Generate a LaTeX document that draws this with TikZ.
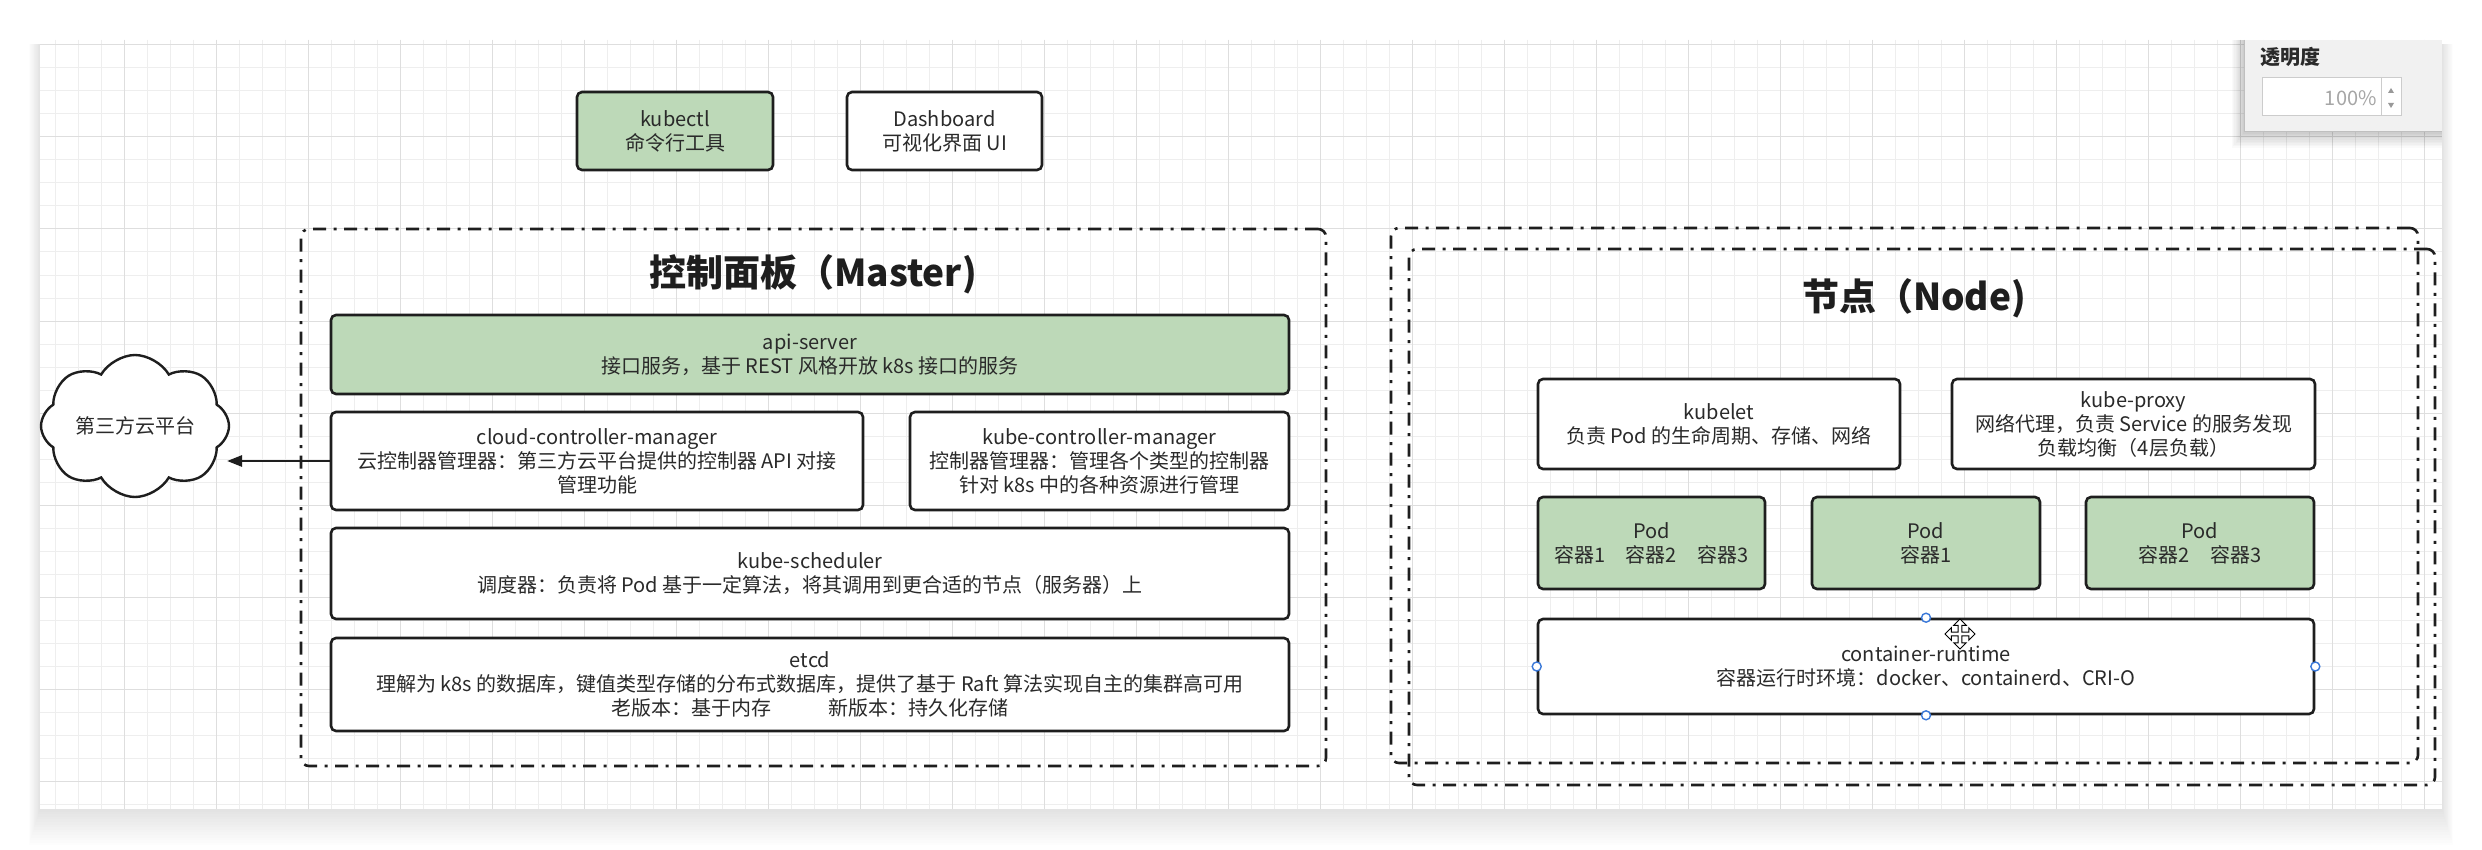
\documentclass[tikz,border=0pt]{standalone}
\usepackage{fontspec}
\setmainfont{Noto Sans CJK SC}
\usetikzlibrary{shapes.symbols,arrows.meta}
\definecolor{boxline}{HTML}{1E1E1E}
\definecolor{txt}{HTML}{2A2A2A}
\definecolor{greenfill}{HTML}{BDD9B8}
\definecolor{gridminor}{HTML}{EEEEEE}
\definecolor{gridmajor}{HTML}{DEDEDE}
\definecolor{handle}{HTML}{3A78D8}
\definecolor{panelfill}{HTML}{F1F1F1}
\newcommand\boxnode[7]{\node[#6, minimum width={(#4-#2)*0.5pt}, minimum height={(#5-#3)*0.5pt}] (#1) at ({(#2+#4)/2},{(#3+#5)/2}) {#7};}
\begin{document}
\begin{tikzpicture}[x=0.5pt,y=-0.5pt,
  compbox/.style={draw=boxline, line width=1.3pt, rounded corners=2.5pt, fill=white, align=center,
    font=\fontsize{10}{12}\selectfont, text=txt, inner sep=0pt},
  greenbox/.style={compbox, fill=greenfill},
  groupbox/.style={draw=boxline, line width=1.3pt, rounded corners=4pt,
    dash pattern=on 6.5pt off 3.75pt on 1.5pt off 3.75pt, inner sep=0pt},
  titletext/.style={font=\fontsize{18.5}{22}\selectfont\bfseries, text=boxline},
  cloudnode/.style={cloud, cloud puffs=8, cloud puff arc=120, aspect=1.5, draw=boxline, line width=1.2pt,
    fill=white, font=\fontsize{10}{12}\selectfont, text=txt, inner sep=0pt},
  arrowline/.style={draw=boxline, line width=1.3pt, -{Triangle[length=7.5pt,width=5.5pt]}},
  handledot/.style={circle, draw=handle, line width=0.7pt, fill=white, minimum size=4.5pt, inner sep=0pt},
  gridline/.style={line width=0.5pt},
]
\useasboundingbox (0,0) rectangle (2482,850);
\fill[white] (0,0) rectangle (2482,850);
% canvas shadow
\foreach \s in {1,...,14}
  \fill[black,opacity=0.009] ({40-\s*0.8},{44}) rectangle ({2442+\s*0.8},{809+\s*2.6});
\fill[white] (40,40) rectangle (2442,809);
% grid
\foreach \gx in {55,78,...,2442} \draw[gridline,gridminor] (\gx,40) -- (\gx,809);
\foreach \gy in {45,68,...,809} \draw[gridline,gridminor] (40,\gy) -- (2442,\gy);
\foreach \gx in {124,216,...,2442} \draw[gridline,gridmajor] (\gx,40) -- (\gx,809);
\foreach \gy in {45,137,...,809} \draw[gridline,gridmajor] (40,\gy) -- (2442,\gy);

% top tools
\boxnode{kubectl}{577}{92}{773}{170}{greenbox}{kubectl\\命令行工具}
\boxnode{dashboard}{847}{92}{1042}{170}{compbox}{Dashboard\\可视化界面 UI}

% master
\boxnode{master}{301}{229}{1326}{766}{groupbox}{}
\node[titletext] (mastertitle) at (813,274) {控制面板（Master)};
\boxnode{api}{331}{315}{1289}{394}{greenbox}{api-server\\接口服务，基于 REST 风格开放 k8s 接口的服务}
\boxnode{ccm}{331}{412}{863}{510}{compbox}{cloud-controller-manager\\云控制器管理器：第三方云平台提供的控制器 API 对接\\管理功能}
\boxnode{kcm}{910}{412}{1289}{510}{compbox}{kube-controller-manager\\控制器管理器：管理各个类型的控制器\\针对 k8s 中的各种资源进行管理}
\boxnode{sched}{331}{528}{1289}{619}{compbox}{kube-scheduler\\调度器：负责将 Pod 基于一定算法，将其调用到更合适的节点（服务器）上}
\boxnode{etcd}{331}{638}{1289}{731}{compbox}{etcd\\理解为 k8s 的数据库，键值类型存储的分布式数据库，提供了基于 Raft 算法实现自主的集群高可用\\老版本：基于内存\hspace*{2.9em}新版本：持久化存储}

% cloud
\node[cloudnode, minimum width=94pt, minimum height=63pt] (cloud) at (135,426) {第三方云平台};
\coordinate (cloudtip) at (227,461);
\draw[arrowline] (ccm.west) -- (cloudtip);

% node area
\boxnode{nodeouter}{1391}{228}{2418}{763}{groupbox}{}
\boxnode{nodeinner}{1409}{249}{2435}{785}{groupbox}{}
\node[titletext] (nodetitle) at (1914,298) {节点（Node)};
\boxnode{kubelet}{1538}{379}{1900}{469}{compbox}{kubelet\\负责 Pod 的生命周期、存储、网络}
\boxnode{proxy}{1952}{379}{2315}{469}{compbox}{kube-proxy\\网络代理，负责 Service 的服务发现\\负载均衡（4层负载）}
\boxnode{podA}{1538}{497}{1765}{589}{greenbox}{Pod\\容器1\hspace*{1em}容器2\hspace*{1em}容器3}
\boxnode{podB}{1812}{497}{2040}{589}{greenbox}{Pod\\容器1}
\boxnode{podC}{2086}{497}{2314}{589}{greenbox}{Pod\\容器2\hspace*{1em}容器3}
\boxnode{runtime}{1538}{619}{2314}{714}{compbox}{container-runtime\\容器运行时环境：docker、containerd、CRI-O}

% selection handles
\node[handledot] (hN) at (runtime.north) {};
\node[handledot] (hS) at (runtime.south) {};
\node[handledot] (hW) at (runtime.west) {};
\node[handledot] (hE) at (runtime.east) {};

% move cursor
\begin{scope}[shift={(1960,634)}, scale=1.25]
\filldraw[fill=white, draw=black, line width=0.5pt, line join=miter]
 (0,-12) -- (5,-7) -- (1.5,-7) -- (1.5,-1.5) -- (7,-1.5) -- (7,-5) -- (12,0) -- (7,5) -- (7,1.5)
 -- (1.5,1.5) -- (1.5,7) -- (5,7) -- (0,12) -- (-5,7) -- (-1.5,7) -- (-1.5,1.5) -- (-7,1.5)
 -- (-7,5) -- (-12,0) -- (-7,-5) -- (-7,-1.5) -- (-1.5,-1.5) -- (-1.5,-7) -- (-5,-7) -- cycle;
\end{scope}

% opacity panel
\foreach \s in {1,...,10}
  \fill[black,opacity=0.02] ({2244-\s*1.2},40) rectangle (2442,{132+\s*1.6});
\fill[panelfill] (2244,40) rectangle (2442,132);
\draw[line width=0.5pt, draw=black!25] (2244,40) -- (2244,132) -- (2442,132);
\node[anchor=west, font=\fontsize{10}{12}\selectfont\bfseries, text=txt, inner sep=0pt] (paneltitle) at (2260,57) {透明度};
\draw[fill=white, draw=black!20, line width=0.5pt] (2262,78) rectangle (2401,116);
\draw[draw=black!20, line width=0.5pt] (2381,78) -- (2381,116);
\node[anchor=east, font=\fontsize{10}{12}\selectfont, text=black!35, inner sep=0pt] (panelvalue) at (2377,98) {100\%};
\fill[black!40] (2388,93) -- (2394,93) -- (2391,88) -- cycle;
\fill[black!40] (2388,103) -- (2394,103) -- (2391,108) -- cycle;
\end{tikzpicture}
\end{document}
